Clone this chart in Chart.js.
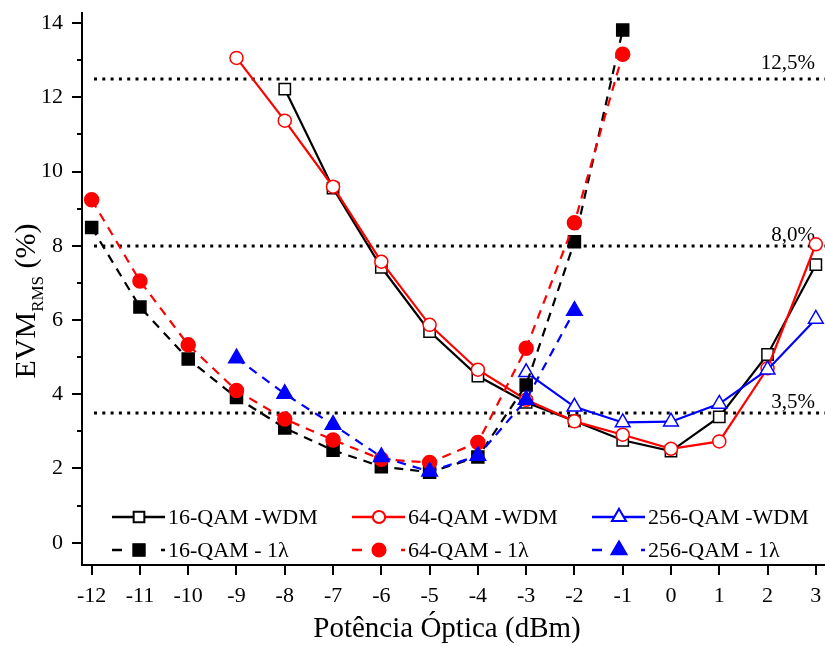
<!DOCTYPE html>
<html>
<head>
<meta charset="utf-8">
<script src="https://cdn.jsdelivr.net/npm/chart.js@4.4.1/dist/chart.umd.min.js"></script>
<style>
  html, body { margin: 0; padding: 0; background: #fff; }
  canvas { display: block; }
</style>
</head>
<body>
<canvas id="evm-chart" width="825" height="646"></canvas>
<script>
// potência óptica (dBm) de cada curva
var xWdm16 = [-8, -7, -6, -5, -4, -3, -2, -1, 0, 1, 2, 3];
var xWdm64 = [-9, -8, -7, -6, -5, -4, -3, -2, -1, 0, 1, 2, 3];
var xWdm256 = [-3, -2, -1, 0, 1, 2, 3];
var xUm16 = [-12, -11, -10, -9, -8, -7, -6, -5, -4, -3, -2, -1];
var xUm64 = [-12, -11, -10, -9, -8, -7, -6, -5, -4, -3, -2, -1];
var xUm256 = [-9, -8, -7, -6, -5, -4, -3, -2];

// EVM rms (%)
var evmWdm16 = [12.22, 9.55, 7.42, 5.69, 4.49, 3.78, 3.28, 2.76, 2.47, 3.39, 5.07, 7.49];
var evmWdm64 = [13.06, 11.37, 9.59, 7.57, 5.87, 4.66, 3.85, 3.27, 2.91, 2.53, 2.73, 4.70, 8.04];
var evmWdm256 = [4.59, 3.66, 3.24, 3.26, 3.74, 4.66, 6.03];
var evmUm16 = [8.49, 6.35, 4.95, 3.91, 3.09, 2.49, 2.05, 1.90, 2.31, 4.25, 8.11, 13.81];
var evmUm64 = [9.24, 7.05, 5.33, 4.10, 3.33, 2.77, 2.25, 2.16, 2.70, 5.24, 8.62, 13.16];
var evmUm256 = [4.97, 4.01, 3.18, 2.31, 1.92, 2.34, 3.85, 6.25];

// limites de EVM
var limites = [12.5, 8.0, 3.5];
var limitesTxt = ["12,5%", "8,0%", "3,5%"];

var xTicks = [-12, -11, -10, -9, -8, -7, -6, -5, -4, -3, -2, -1, 0, 1, 2, 3];
var yTicks = [0, 1, 2, 3, 4, 5, 6, 7, 8, 9, 10, 11, 12, 13, 14];

var serif = "'Liberation Serif', 'Times New Roman', serif";
var tracejado = [9, 7];

function pontos(xs, ys) {
    return xs.map(function (x, i) { return { x: x, y: ys[i] }; });
}

function serie(label, xs, ys, cor, estilo, cheio, raio, dash, ordem) {
    return {
        label: label,
        data: pontos(xs, ys),
        borderColor: cor,
        borderWidth: 2.2,
        borderDash: dash,
        pointStyle: estilo,
        pointRadius: raio,
        pointHoverRadius: raio,
        pointBorderWidth: 1.5,
        pointBorderColor: cor,
        pointBackgroundColor: cheio ? cor : "#fff",
        order: ordem,
        tension: 0
    };
}

var datasets = [
    serie("16-QAM -WDM", xWdm16, evmWdm16, "#000", "rect", false, 8, [], 5),
    serie("64-QAM -WDM", xWdm64, evmWdm64, "#ff0000", "circle", false, 6.5, [], 4),
    serie("256-QAM -WDM", xWdm256, evmWdm256, "#0000ff", "triangle", false, 8.5, [], 3),
    serie("16-QAM - 1λ", xUm16, evmUm16, "#000", "rect", true, 8.5, tracejado, 2),
    serie("64-QAM - 1λ", xUm64, evmUm64, "#ff0000", "circle", true, 7, tracejado, 1),
    serie("256-QAM - 1λ", xUm256, evmUm256, "#0000ff", "triangle", true, 9, tracejado, 0)
];

// linhas pontilhadas dos limites
var linhasLimite = {
    id: "linhasLimite",
    beforeDatasetsDraw: function (chart) {
        var ctx = chart.ctx, y = chart.scales.y, area = chart.chartArea;
        ctx.save();
        limites.forEach(function (v, i) {
            var py = Math.round(y.getPixelForValue(v));
            ctx.strokeStyle = "#000";
            ctx.lineWidth = 3;
            ctx.setLineDash([3, 5.3]);
            ctx.beginPath();
            ctx.moveTo(area.left + 12, py);
            ctx.lineTo(area.right, py);
            ctx.stroke();
            ctx.setLineDash([]);
            ctx.fillStyle = "#000";
            ctx.font = "21px " + serif;
            ctx.textAlign = "right";
            ctx.textBaseline = "alphabetic";
            ctx.fillText(limitesTxt[i], 815, py - (i === 0 ? 10 : 5));
        });
        ctx.restore();
    }
};

// ticks menores, títulos e legenda
var extras = {
    id: "extras",
    afterDraw: function (chart) {
        var ctx = chart.ctx, y = chart.scales.y, area = chart.chartArea;
        ctx.save();
        ctx.strokeStyle = "#000";
        ctx.lineWidth = 2;
        yTicks.forEach(function (v) {
            if (v % 2 === 0) return;
            var py = Math.round(y.getPixelForValue(v));
            ctx.beginPath();
            ctx.moveTo(area.left - 5, py);
            ctx.lineTo(area.left, py);
            ctx.stroke();
        });

        ctx.fillStyle = "#000";
        ctx.font = "29px " + serif;
        ctx.textAlign = "center";
        ctx.textBaseline = "alphabetic";
        ctx.fillText("Potência Óptica (dBm)", 447, 637);

        // EVM com subscrito RMS
        ctx.translate(35, 301);
        ctx.rotate(-Math.PI / 2);
        ctx.textAlign = "left";
        var fg = "30px " + serif, fp = "17px " + serif;
        ctx.font = fg; var w1 = ctx.measureText("EVM").width, w3 = ctx.measureText(" (%)").width;
        ctx.font = fp; var w2 = ctx.measureText("RMS").width;
        var x0 = -(w1 + w2 + w3) / 2;
        ctx.font = fg; ctx.fillText("EVM", x0, 0);
        ctx.font = fp; ctx.fillText("RMS", x0 + w1, 8);
        ctx.font = fg; ctx.fillText(" (%)", x0 + w1 + w2, 0);
        ctx.restore();

        // legenda em 2 linhas x 3 colunas
        var colX = [112, 352, 592], linY = [517, 550];
        ctx.save();
        chart.data.datasets.forEach(function (ds, i) {
            var x = colX[i % 3], yy = linY[Math.floor(i / 3)];
            ctx.strokeStyle = ds.borderColor;
            ctx.lineWidth = 2.5;
            ctx.setLineDash(ds.borderDash.length ? [10, 39] : []);
            ctx.beginPath();
            ctx.moveTo(x, yy);
            ctx.lineTo(x + 53, yy);
            ctx.stroke();
            ctx.setLineDash([]);
            Chart.helpers.drawPoint(ctx, {
                pointStyle: ds.pointStyle,
                radius: ds.pointRadius * 0.9,
                borderWidth: 1.5
            }, x + 27, yy);
            ctx.fillStyle = ds.pointBackgroundColor;
            ctx.strokeStyle = ds.pointBorderColor;
            ctx.lineWidth = 1.5;
            ctx.fill();
            ctx.stroke();
            ctx.fillStyle = "#000";
            ctx.font = "22px " + serif;
            ctx.textAlign = "left";
            ctx.textBaseline = "alphabetic";
            ctx.fillText(ds.label, x + 56, yy + 7);
        });
        ctx.restore();
    }
};

new Chart(document.getElementById("evm-chart"), {
    type: "line",
    data: { datasets: datasets },
    options: {
        responsive: false,
        animation: false,
        devicePixelRatio: 1,
        layout: { autoPadding: false, padding: { top: 13, right: 0, left: 0, bottom: 0 } },
        plugins: {
            legend: { display: false },
            tooltip: { enabled: false },
            title: { display: false }
        },
        scales: {
            x: {
                type: "linear",
                position: "bottom",
                min: -12.2,
                max: 3.19,
                afterBuildTicks: function (s) { s.ticks = xTicks.map(function (v) { return { value: v }; }); },
                afterFit: function (s) { s.height = 81; s.paddingLeft = 0; s.paddingRight = 0; },
                border: { color: "#000", width: 2 },
                grid: { drawOnChartArea: false, drawTicks: true, tickLength: 10, color: "#000", lineWidth: 2 },
                ticks: {
                    color: "#000",
                    font: { family: serif, size: 22 },
                    padding: 8,
                    maxRotation: 0,
                    autoSkip: false,
                    callback: function (v) { return String(v); }
                }
            },
            y: {
                type: "linear",
                position: "left",
                min: -0.6,
                max: 14.27,
                afterBuildTicks: function (s) { s.ticks = yTicks.map(function (v) { return { value: v }; }); },
                afterFit: function (s) { s.width = 82; s.paddingTop = 0; s.paddingBottom = 0; },
                border: { color: "#000", width: 2 },
                grid: {
                    drawOnChartArea: false,
                    drawTicks: true,
                    tickLength: 10,
                    lineWidth: 2,
                    color: function (c) { return c.tick && c.tick.value % 2 !== 0 ? "rgba(0,0,0,0)" : "#000"; }
                },
                ticks: {
                    color: "#000",
                    font: { family: serif, size: 22 },
                    padding: 9,
                    autoSkip: false,
                    callback: function (v) { return v % 2 === 0 ? String(v) : ""; }
                }
            }
        }
    },
    plugins: [linhasLimite, extras]
});
</script>
</body>
</html>
